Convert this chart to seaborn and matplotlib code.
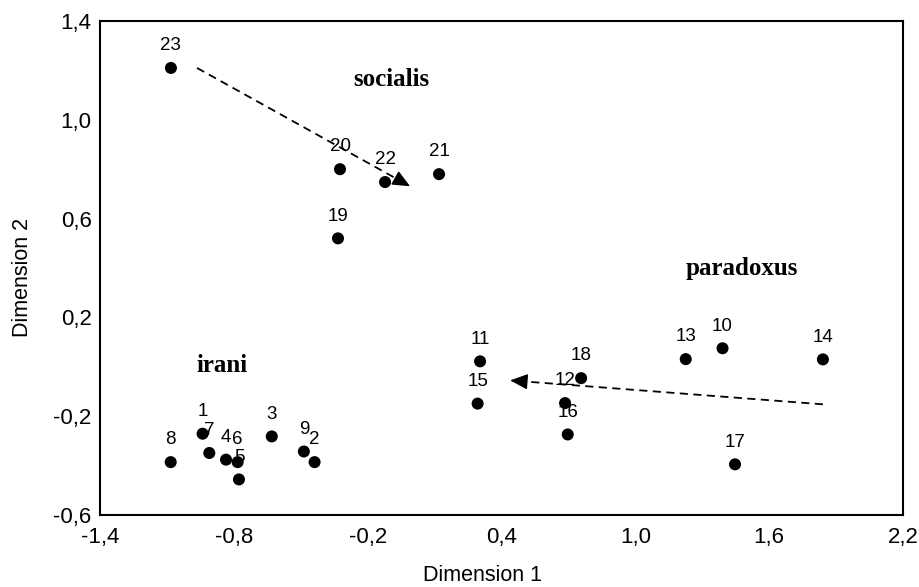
import numpy as np
import pandas as pd
import matplotlib
matplotlib.use('Agg')
import matplotlib.pyplot as plt
import seaborn as sns
from matplotlib.ticker import FixedLocator, MultipleLocator, FuncFormatter

# MDS coordinates
ids = ['1', '2', '3', '4', '5', '6', '7', '8', '9', '10', '11', '12',
       '13', '14', '15', '16', '17', '18', '19', '20', '21', '22', '23']
dim1 = [-0.94, -0.438, -0.63, -0.835, -0.777, -0.783, -0.91, -1.083, -0.486,
        1.391, 0.304, 0.685, 1.226, 1.841, 0.293, 0.697, 1.447, 0.757,
        -0.333, -0.324, 0.12, -0.122, -1.082]
dim2 = [-0.271, -0.386, -0.282, -0.376, -0.456, -0.386, -0.349, -0.386, -0.343,
        0.075, 0.022, -0.147, 0.031, 0.030, -0.149, -0.274, -0.395, -0.046,
        0.52, 0.80, 0.78, 0.748, 1.21]

# group names and where they sit
groups = ['socialis', 'paradoxus', 'irani']
group_x = [-0.095, 1.479, -0.853]
group_y = [1.165, 0.399, 0.006]

# dashed arrows (start -> end)
arrow_x0 = [-0.965, 1.841]
arrow_y0 = [1.21, -0.152]
arrow_x1 = [-0.01, 0.439]
arrow_y1 = [0.731, -0.055]

xticks = [-1.4, -0.8, -0.2, 0.4, 1.0, 1.6, 2.2]
yticks = [-0.6, -0.2, 0.2, 0.6, 1.0, 1.4]

df = pd.DataFrame({'id': ids, 'Dimension 1': dim1, 'Dimension 2': dim2})

sns.set_theme(style='white')
plt.rcParams['font.family'] = ['Liberation Sans', 'DejaVu Sans']
plt.rcParams['text.color'] = 'black'

fig = plt.figure(figsize=(9.2, 5.87), dpi=100)
ax = fig.add_axes([0.1087, 0.1227, 0.8728, 0.8415])

sns.scatterplot(data=df, x='Dimension 1', y='Dimension 2', color='black',
                s=75, edgecolor='none', ax=ax, zorder=3)

# point numbers just above each point
for _, r in df.iterrows():
    ax.annotate(r['id'], (r['Dimension 1'], r['Dimension 2']), xytext=(0, 16),
                textcoords='offset points', ha='center', va='center',
                fontsize=13.5, color='black')

for g, gx, gy in zip(groups, group_x, group_y):
    ax.text(gx, gy, g, ha='center', va='center', fontsize=18, color='black',
            fontweight='bold', family=['Liberation Serif', 'DejaVu Serif'])

# dashed shaft + solid head
for x0, y0, x1, y1 in zip(arrow_x0, arrow_y0, arrow_x1, arrow_y1):
    ax.plot([x0, x1 - (x1 - x0) * 0.04], [y0, y1 - (y1 - y0) * 0.04],
            color='black', lw=1.3, ls=(0, (4.5, 3)), zorder=2)
    ax.annotate('', xy=(x1, y1),
                xytext=(x1 - (x1 - x0) * 0.05, y1 - (y1 - y0) * 0.05),
                arrowprops=dict(arrowstyle='-|>,head_length=0.9,head_width=0.4',
                                color='black', lw=1.0, shrinkA=0, shrinkB=0))

ax.set_xlim(-1.4, 2.2)
ax.set_ylim(-0.6, 1.4)
ax.xaxis.set_major_locator(FixedLocator(xticks))
ax.xaxis.set_minor_locator(MultipleLocator(0.1))
ax.yaxis.set_major_locator(FixedLocator(yticks))
ax.yaxis.set_minor_locator(MultipleLocator(0.1))
comma = FuncFormatter(lambda v, p: f'{v:.1f}'.replace('.', ','))
ax.xaxis.set_major_formatter(comma)
ax.yaxis.set_major_formatter(comma)
ax.tick_params(which='both', direction='in', length=4, width=1, color='black',
               labelsize=16, labelcolor='black')
ax.tick_params(axis='x', pad=9)
ax.tick_params(axis='y', pad=6)
for sp in ax.spines.values():
    sp.set_color('black')
    sp.set_linewidth(1.5)

ax.set_xlabel('Dimension 1', fontsize=15.5, color='black')
ax.set_ylabel('Dimension 2', fontsize=15.5, color='black')
ax.xaxis.set_label_coords(0.476, -0.101)
ax.yaxis.set_label_coords(-0.0835, 0.48)

fig.savefig('out.png', dpi=100, facecolor='white')
